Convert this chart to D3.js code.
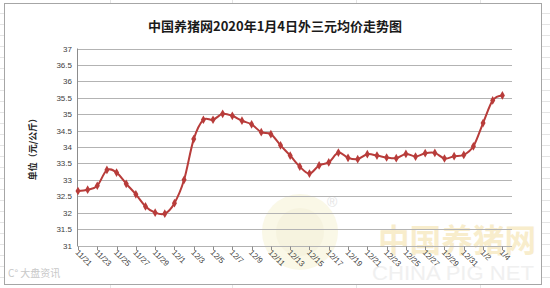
<!DOCTYPE html>
<html><head><meta charset="utf-8">
<script src="https://cdn.jsdelivr.net/npm/d3@7"></script>
<style>body{margin:0;background:#fff}svg{display:block}</style>
</head><body>
<svg id="c" width="550" height="288"></svg>
<script>
const title = "中国养猪网2020年1月4日外三元均价走势图";
const yTitle = "单位（元/公斤）";
const dates = ["11/21","11/22","11/23","11/24","11/25","11/26","11/27","11/28","11/29","11/30",
"12/1","12/2","12/3","12/4","12/5","12/6","12/7","12/8","12/9","12/10","12/11","12/12","12/13","12/14","12/15","12/16","12/17","12/18","12/19","12/20","12/21","12/22","12/23","12/24","12/25","12/26","12/27","12/28","12/29","12/30","12/31",
"1/1","1/2","1/3","1/4"];
const prices = [32.66,32.70,32.82,33.30,33.22,32.88,32.56,32.19,32.00,31.97,
32.29,33.00,34.24,34.83,34.83,35.01,34.95,34.80,34.69,34.45,34.39,34.05,33.74,33.40,33.19,33.44,33.53,33.83,33.67,33.63,33.78,
33.74,33.68,33.66,33.79,33.71,33.81,33.82,33.65,33.72,33.76,34.02,34.73,35.42,35.57];
const yTicks = [31,31.5,32,32.5,33,33.5,34,34.5,35,35.5,36,36.5,37];

const svg = d3.select("#c");
svg.append("rect").attr("width",550).attr("height",288).attr("fill","#fff");
const bg = svg.append("g").attr("stroke","#e4e4e4").attr("stroke-width",1);
[13,24,35,46,57,68,79,90,101,112,123,134,145,156,167,178,189,200,211,222,233,244,255,266,277].forEach(yy=>{
  bg.append("line").attr("x1",0).attr("x2",4).attr("y1",yy+0.5).attr("y2",yy+0.5);
  bg.append("line").attr("x1",541).attr("x2",550).attr("y1",yy+0.5).attr("y2",yy+0.5);
});
[110,232,356,480].forEach(xx=>{
  bg.append("line").attr("x1",xx+0.5).attr("x2",xx+0.5).attr("y1",0).attr("y2",3);
  bg.append("line").attr("x1",xx+0.5).attr("x2",xx+0.5).attr("y1",284).attr("y2",288);
});
svg.append("rect").attr("x",4.5).attr("y",3.5).attr("width",537).attr("height",281)
  .attr("fill","#fff").attr("stroke","#a6a6a6").attr("stroke-width",1);

const x = d3.scaleLinear().domain([0,45]).range([78,512]);
const y = d3.scaleLinear().domain([31,37]).range([245.5,48.5]);

// watermark
const wm = svg.append("g").attr("opacity",0.5);
wm.append("circle").attr("cx",300).attr("cy",232).attr("r",38).attr("fill","#f6f2d0");
wm.append("circle").attr("cx",300).attr("cy",232).attr("r",24).attr("fill","#efe9c0");
wm.append("text").attr("x",327).attr("y",207).attr("font-size",14).attr("fill","#ccc")
  .attr("font-family","Liberation Sans, Arial").text("®");
wm.append("text").attr("x",378).attr("y",252).attr("font-size",32).attr("font-weight","bold")
  .attr("fill","#f3dc9a").attr("font-family","Noto Sans CJK SC")
  .attr("textLength",158).attr("lengthAdjust","spacingAndGlyphs").text("中国养猪网");
wm.append("text").attr("x",372).attr("y",280).attr("font-size",20)
  .attr("fill","#e2e2e2").attr("font-family","Liberation Sans, Arial")
  .attr("textLength",162).attr("lengthAdjust","spacingAndGlyphs").text("CHINA PIG NET");

svg.append("g").selectAll("line").data(yTicks).join("line")
  .attr("x1",78).attr("x2",512)
  .attr("y1",d=>Math.round(y(d))+0.5).attr("y2",d=>Math.round(y(d))+0.5)
  .attr("stroke","#b3b3b3").attr("stroke-width",1);
svg.append("line").attr("x1",77.5).attr("x2",77.5).attr("y1",y(37)).attr("y2",Math.round(y(31))+0.5)
  .attr("stroke","#8c8c8c");
svg.append("g").selectAll("text").data(yTicks).join("text")
  .attr("x",72).attr("y",d=>y(d)+3).attr("text-anchor","end")
  .attr("font-size",8).attr("fill","#404040").attr("font-family","Liberation Sans, Arial")
  .text(d=>d);
const labIdx = d3.range(0,45,2);
svg.append("g").selectAll("line").data(labIdx).join("line")
  .attr("x1",d=>Math.round(x(d))+0.5).attr("x2",d=>Math.round(x(d))+0.5)
  .attr("y1",Math.round(y(31))+0.5).attr("y2",Math.round(y(31))+4)
  .attr("stroke","#8c8c8c");
svg.append("g").selectAll("text").data(labIdx).join("text")
  .attr("transform",d=>`translate(${x(d)-3},${253}) rotate(45)`)
  .attr("font-size",8).attr("fill","#404040").attr("font-family","Liberation Sans, Arial")
  .text(d=>dates[d]);

const line = d3.line().x((d,i)=>x(i)).y(d=>y(d)).curve(d3.curveCatmullRom.alpha(0));
svg.append("path").datum(prices).attr("d",line).attr("fill","none")
  .attr("stroke","#b83c3a").attr("stroke-width",2);
svg.append("g").selectAll("path").data(prices).join("path")
  .attr("d",d3.symbol(d3.symbolDiamond,22)())
  .attr("transform",(d,i)=>`translate(${x(i)},${y(d)})`)
  .attr("fill","#b83c3a");

svg.append("text").attr("x",275).attr("y",31).attr("text-anchor","middle")
  .attr("font-size",13).attr("font-weight","bold").attr("fill","#1a1a1a")
  .attr("font-family","Noto Sans CJK SC").text(title);
svg.append("text").attr("transform","translate(36,147) rotate(-90)").attr("text-anchor","middle")
  .attr("font-size",9).attr("font-weight","bold").attr("fill","#262626")
  .attr("font-family","Noto Sans CJK SC").text(yTitle);

svg.append("text").attr("x",8).attr("y",277).attr("font-size",10).attr("fill","#c8c8c8")
  .attr("font-family","Noto Sans CJK SC").text("C° 大盘资讯");
</script>
</body></html>
